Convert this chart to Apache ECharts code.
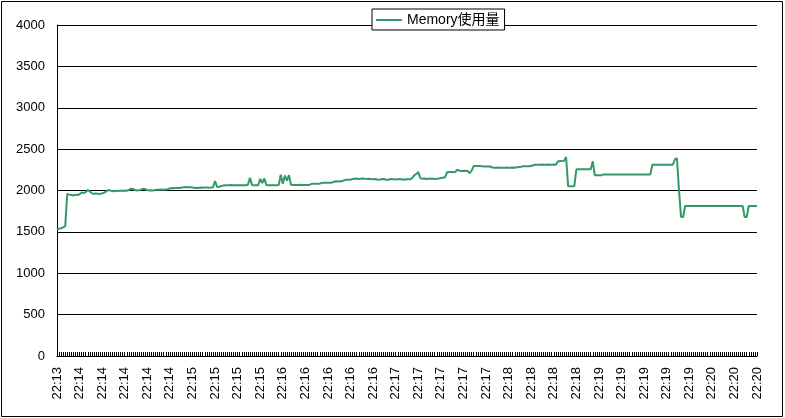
<!DOCTYPE html>
<html>
<head>
<meta charset="utf-8">
<title>Memory使用量</title>
<script src="https://cdn.jsdelivr.net/npm/echarts@6/dist/echarts.min.js"></script>
<style>
    html, body { margin: 0; padding: 0; background: #fff; }
    #main { width: 785px; height: 418px; }
</style>
</head>
<body>
<div id="main"></div>
<script>
// 横轴标签(每11个点一个)
var timeLabels = ['22:13', '22:14', '22:14', '22:14', '22:14', '22:14', '22:15', '22:15',
    '22:15', '22:15', '22:16', '22:16', '22:16', '22:16', '22:16', '22:17', '22:17', '22:17',
    '22:17', '22:17', '22:18', '22:18', '22:18', '22:18', '22:19', '22:19', '22:19', '22:19',
    '22:19', '22:20', '22:20', '22:20'];

var yTicks = [0, 500, 1000, 1500, 2000, 2500, 3000, 3500, 4000];

var seriesName = 'Memory使用量';

// 内存使用量 (每行11个点)
var memory = [
    1530, 1540, 1545, 1555, 1570, 1960, 1950, 1945, 1940, 1950, 1945,
    1955, 1975, 1970, 1980, 2006, 1990, 1965, 1960, 1965, 1958, 1962,
    1965, 1975, 1990, 2006, 2000, 1995, 1990, 1998, 1995, 2000, 1995,
    2000, 1998, 2005, 2022, 2018, 2005, 2000, 2002, 2010, 2022, 2015,
    2005, 2000, 2002, 2000, 2008, 2010, 2008, 2012, 2010, 2012, 2015,
    2025, 2030, 2028, 2030, 2032, 2030, 2035, 2042, 2040, 2042, 2040,
    2035, 2030, 2032, 2030, 2035, 2033, 2035, 2035, 2033, 2035, 2040,
    2115, 2042, 2045, 2055, 2060, 2063, 2062, 2063, 2065, 2063, 2062,
    2063, 2064, 2062, 2063, 2063, 2070, 2155, 2065, 2063, 2062, 2063,
    2140, 2090, 2145, 2065, 2063, 2062, 2063, 2063, 2063, 2065, 2190,
    2080, 2180, 2120, 2185, 2070, 2067, 2066, 2067, 2068, 2067, 2066,
    2067, 2067, 2067, 2080, 2083, 2083, 2082, 2083, 2090, 2095, 2095,
    2094, 2095, 2096, 2105, 2111, 2110, 2111, 2112, 2125, 2131, 2130,
    2131, 2140, 2143, 2145, 2140, 2143, 2145, 2142, 2140, 2143, 2138,
    2135, 2140, 2133, 2130, 2135, 2138, 2133, 2128, 2135, 2140, 2135,
    2132, 2135, 2138, 2135, 2130, 2135, 2137, 2135, 2150, 2183, 2200,
    2223, 2150, 2143, 2145, 2140, 2143, 2145, 2143, 2140, 2143, 2145,
    2150, 2155, 2160, 2220, 2223, 2225, 2223, 2222, 2252, 2240, 2236,
    2236, 2238, 2236, 2210, 2240, 2295, 2295, 2296, 2295, 2294, 2290,
    2291, 2290, 2290, 2278, 2276, 2275, 2278, 2276, 2274, 2276, 2278,
    2276, 2275, 2278, 2276, 2280, 2285, 2288, 2292, 2292, 2294, 2292,
    2295, 2305, 2312, 2310, 2312, 2314, 2310, 2312, 2315, 2312, 2310,
    2314, 2312, 2350, 2356, 2355, 2358, 2404, 2051, 2051, 2051, 2051,
    2256, 2256, 2256, 2256, 2256, 2256, 2256, 2256, 2352, 2183, 2183,
    2183, 2183, 2192, 2192, 2192, 2192, 2192, 2192, 2192, 2192, 2192,
    2192, 2192, 2192, 2192, 2192, 2192, 2192, 2192, 2192, 2192, 2192,
    2192, 2192, 2192, 2192, 2312, 2312, 2312, 2312, 2312, 2312, 2312,
    2312, 2312, 2312, 2312, 2376, 2390, 2002, 1680, 1680, 1813, 1813,
    1813, 1813, 1813, 1813, 1813, 1813, 1813, 1813, 1813, 1813, 1813,
    1813, 1813, 1813, 1813, 1813, 1813, 1813, 1813, 1813, 1813, 1813,
    1813, 1813, 1813, 1813, 1813, 1680, 1680, 1813, 1813, 1813, 1813,
    1813
];

var lineChart = function () {
    var myCharts = echarts.init(document.getElementById('main'));

    // 每个点一个类目, 标签用 timeLabels
    var xData = memory.map(function (v, i) { return i; });

    var option = {
        animation: false,
        textStyle: { fontFamily: 'Liberation Sans, Arial, sans-serif' },
        graphic: [{
            type: 'rect',
            shape: { x: 1.5, y: 1.5, width: 781, height: 415 },
            style: { fill: 'none', stroke: '#000', lineWidth: 1 },
            silent: true
        }],
        legend: {
            left: 372,
            top: 9,
            padding: [4, 5, 3, 4],
            icon: 'rect',
            itemWidth: 26,
            itemHeight: 2,
            backgroundColor: '#fff',
            borderColor: '#000',
            borderWidth: 1,
            borderRadius: 0,
            textStyle: {
                fontSize: 14,
                color: '#000',
                fontFamily: 'Liberation Sans, "Noto Sans CJK JP", sans-serif'
            },
            data: [seriesName]
        },
        grid: { left: 57, right: 28, top: 25, bottom: 62, containLabel: false },
        xAxis: {
            type: 'category',
            boundaryGap: false,
            data: xData,
            axisLine: { lineStyle: { color: '#000', width: 1 } },
            axisTick: { interval: 0, inside: true, length: 4, lineStyle: { color: '#000' } },
            axisLabel: {
                interval: 10,
                rotate: 90,
                margin: 11,
                fontSize: 13,
                color: '#000',
                fontFamily: '"Liberation Sans Narrow", "Liberation Sans", Arial, sans-serif',
                formatter: function (v, idx) {
                    return timeLabels[Math.round(idx / 11)];
                }
            },
            splitLine: { show: false }
        },
        yAxis: {
            type: 'value',
            min: yTicks[0],
            max: yTicks[yTicks.length - 1],
            interval: yTicks[1] - yTicks[0],
            axisLine: { show: true, lineStyle: { color: '#000', width: 1 } },
            axisTick: { show: false },
            axisLabel: {
                fontSize: 13,
                color: '#000',
                margin: 12,
                formatter: function (v) { return String(v); }
            },
            splitLine: { lineStyle: { color: '#000', width: 1 } }
        },
        series: [{
            name: seriesName,
            type: 'line',
            data: memory,
            symbol: 'none',
            color: '#339966',
            lineStyle: { color: '#339966', width: 2 }
        }]
    };

    myCharts.setOption(option);
};

lineChart();
</script>
</body>
</html>
